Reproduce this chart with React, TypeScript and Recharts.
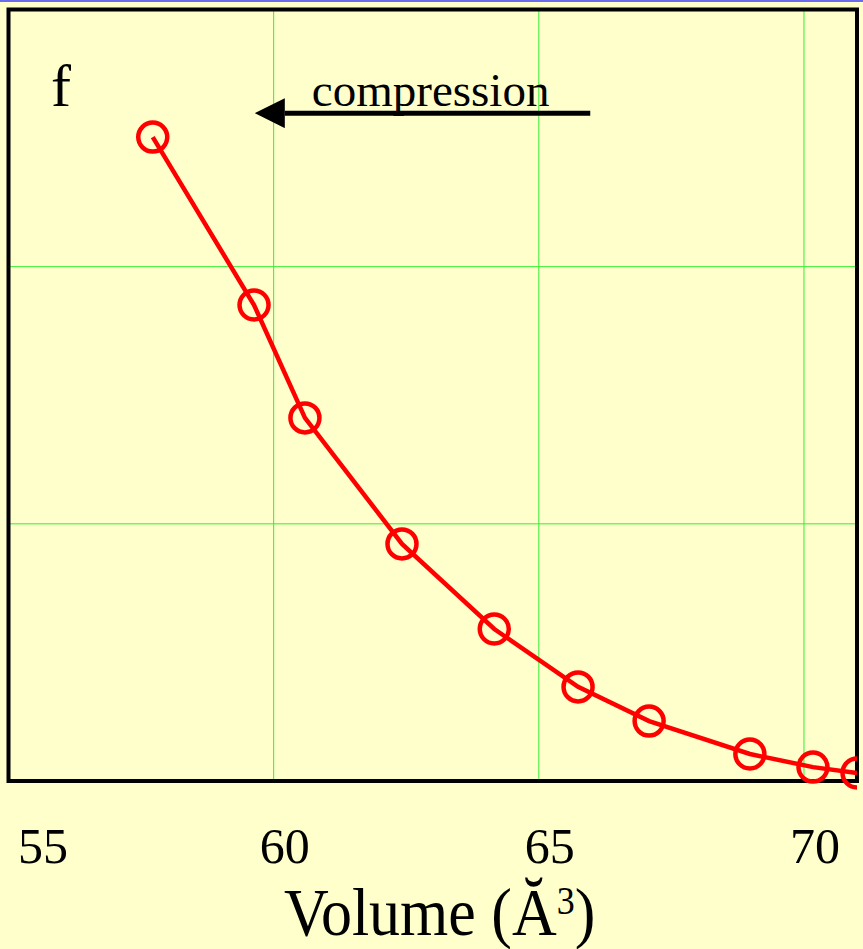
import {
  LineChart,
  Line,
  XAxis,
  YAxis,
  CartesianGrid,
  ReferenceArea,
  ReferenceLine,
  ReferenceDot,
} from "recharts";

const volume = [57.72, 59.63, 60.59, 62.42, 64.16, 65.74, 67.08, 68.98, 70.17, 71.0];
const fValues = [2.504, 1.851, 1.412, 0.922, 0.591, 0.366, 0.233, 0.105, 0.054, 0.031];
const xTicks = [55, 60, 65, 70];
const yTicks = [0, 1, 2, 3];

const data = volume.map((v, i) => ({ volume: v, f: fValues[i] }));

const SERIF = '"Liberation Serif", "Times New Roman", serif';
const BG = "#ffffcc";

function VolumeTick(props: any) {
  const { x, y, payload } = props;
  // labels sit a little right of their grid line; the first one is kept inside the frame
  const cx = Math.max(x + 11, 43);
  return (
    <text
      x={cx}
      y={y + 82}
      textAnchor="middle"
      fontFamily={SERIF}
      fontSize={50}
      fill="#000"
    >
      {payload.value}
    </text>
  );
}

function AxisTitle(props: any) {
  const vb = props.viewBox || { x: 0, y: 0, width: 0, height: 0 };
  const cx = vb.x + vb.width / 2 + 7;
  const by = vb.y + 154;
  return (
    <text
      transform={`translate(${cx},${by}) scale(1,1.1)`}
      textAnchor="middle"
      fontFamily={SERIF}
      fontSize={62}
      fill="#000"
    >
      Volume (Ă
      <tspan fontSize={36} dy={-19}>
        3
      </tspan>
      <tspan dy={19}>)</tspan>
    </text>
  );
}

function textLabel(text: string, size: number, anchor: string) {
  return (p: any) => {
    const vb = p.viewBox || {};
    const x = vb.cx ?? vb.x ?? 0;
    const y = vb.cy ?? vb.y ?? 0;
    return (
      <text
        x={x}
        y={y}
        textAnchor={anchor}
        fontFamily={SERIF}
        fontSize={size}
        fill="#000"
      >
        {text}
      </text>
    );
  };
}

export default function App() {
  return (
    <div
      style={{
        position: "absolute",
        top: 0,
        left: 0,
        width: 863,
        height: 949,
        background: BG,
        overflow: "hidden",
      }}
    >
      <svg width={0} height={0} style={{ position: "absolute" }}>
        <defs>
          <marker
            id="arrowHead"
            markerWidth={30}
            markerHeight={30}
            refX={0}
            refY={15}
            orient="auto"
            markerUnits="userSpaceOnUse"
          >
            <path d="M0,0 L30,15 L0,30 z" fill="#000" />
          </marker>
        </defs>
      </svg>
      <div
        style={{
          position: "absolute",
          top: 0,
          left: 0,
          width: 863,
          height: 2,
          background: "#6b6bee",
        }}
      />
      <LineChart
        width={863}
        height={949}
        data={data}
        margin={{ top: 9.5, right: 6, left: 8.5, bottom: 0 }}
      >
        <CartesianGrid stroke="#33ee33" strokeWidth={1} />
        <XAxis
          dataKey="volume"
          type="number"
          domain={[55, 71]}
          ticks={xTicks}
          allowDataOverflow
          height={168}
          axisLine={false}
          tickLine={false}
          tickSize={0}
          tickMargin={0}
          tick={<VolumeTick />}
          label={{ content: AxisTitle }}
        />
        <YAxis hide type="number" domain={[0, 3]} ticks={yTicks} />
        <ReferenceArea
          x1={55}
          x2={71}
          y1={0}
          y2={3}
          fill="none"
          stroke="#000"
          strokeWidth={4}
        />
        <ReferenceLine
          segment={[
            { x: 65.97, y: 2.597 },
            { x: 60.21, y: 2.597 },
          ]}
          stroke="#000"
          strokeWidth={5}
          markerEnd="url(#arrowHead)"
        />
        <ReferenceDot
          x={55.99}
          y={2.625}
          r={0}
          fill="none"
          stroke="none"
          label={{ content: textLabel("f", 60, "middle") }}
        />
        <ReferenceDot
          x={60.72}
          y={2.625}
          r={0}
          fill="none"
          stroke="none"
          label={{ content: textLabel("compression", 47, "start") }}
        />
        <Line
          type="linear"
          dataKey="f"
          stroke="#ff0000"
          strokeWidth={4.5}
          dot={{ r: 14.5, stroke: "#ff0000", strokeWidth: 4.5, fill: "none" }}
          activeDot={false}
          isAnimationActive={false}
        />
      </LineChart>
    </div>
  );
}
